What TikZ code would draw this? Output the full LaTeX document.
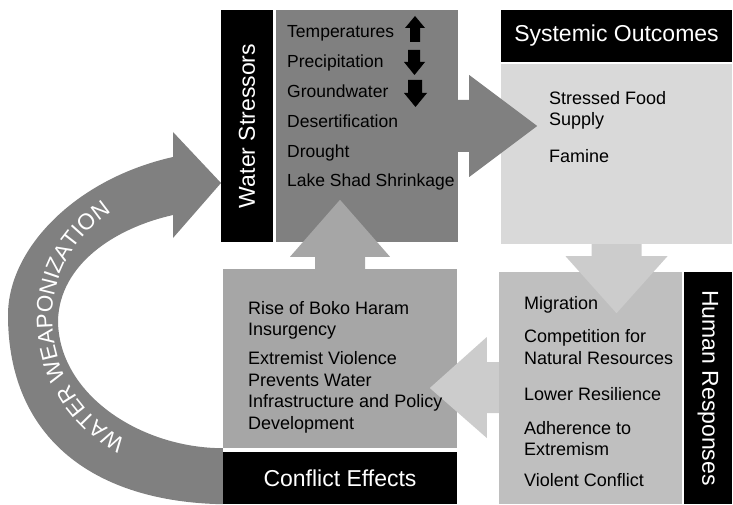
\documentclass[tikz,border=0pt]{standalone}
\usepackage{fontspec}
\setmainfont{Liberation Sans}
\usetikzlibrary{calc,decorations.text}

\definecolor{stressgray}{gray}{0.5}
\definecolor{outgray}{gray}{0.85}
\definecolor{respgray}{gray}{0.75}
\definecolor{confgray}{gray}{0.65}
\definecolor{flowgray}{gray}{0.8}

\tikzset{
  title/.style={fill=black, text=white, inner sep=0pt,
    font=\fontsize{23}{26}\selectfont},
  items/.style={anchor=base west, align=left, inner sep=0pt,
    font=\fontsize{18}{21.5}\selectfont},
}

\begin{document}
\begin{tikzpicture}[x=1pt,y=1pt]
  \useasboundingbox (0,0) rectangle (733,504);

  % boxes
  \node[title, minimum width=232pt, minimum height=52pt, rotate=90](WSt) at (247,378) {Water Stressors};
  \node[fill=stressgray, minimum width=182pt, minimum height=232pt](WSb) at (367,378) {};
  \node[title, minimum width=231pt, minimum height=52pt](SOt) at (616.5,468) {Systemic Outcomes};
  \node[fill=outgray, minimum width=231pt, minimum height=180pt](SOb) at (616.5,350) {};
  \node[title, minimum width=232pt, minimum height=48pt, rotate=-90](HRt) at (708,116) {Human Responses};
  \node[fill=respgray, minimum width=183pt, minimum height=232pt](HRb) at (590.5,116) {};
  \node[fill=confgray, minimum width=234pt, minimum height=179pt](CEb) at (340,145.5) {};
  \node[title, minimum width=234pt, minimum height=52pt](CEt) at (340,26) {Conflict Effects};

  % block arrows
  \fill[stressgray] ($(WSb.east)+(0,26)$) -- ++(11,0) -- ++(0,25) -- ($(WSb.east)+(79,0)$)
    -- ($(WSb.east)+(11,-51)$) -- ++(0,25) -- ($(WSb.east)+(0,-26)$) -- cycle;
  \fill[flowgray] ($(SOb.south)+(-25,0)$) -- ++(0,-12) -- ++(-26,0) -- ($(SOb.south)+(0,-69)$)
    -- ($(SOb.south)+(51,-12)$) -- ++(-26,0) -- ($(SOb.south)+(25,0)$) -- cycle;
  \fill[flowgray] ($(HRb.west)+(0,26)$) -- ++(-12,0) -- ++(0,25) -- ($(HRb.west)+(-69,0)$)
    -- ($(HRb.west)+(-12,-50)$) -- ++(0,25) -- ($(HRb.west)+(0,-25)$) -- cycle;
  \fill[confgray] ($(CEb.north)+(-25,0)$) -- ++(0,12) -- ++(-25,0) -- ($(CEb.north)+(0,69)$)
    -- ($(CEb.north)+(50,12)$) -- ++(-25,0) -- ($(CEb.north)+(25,0)$) -- cycle;

  % curved arrow
  \fill[stressgray] (CEt.south west) .. controls (95,2) and (8,65) .. (8,189)
    .. controls (8,255) and (75,325) .. (173,347) -- (173,372) -- (221,321)
    -- (173,266) -- (173,289) .. controls (115,276) and (60,240) .. (58,184)
    .. controls (58,110) and (140,56) .. (CEb.south west) -- cycle;
  \path[decorate, decoration={text along path, text color=white,
      text={|\fontsize{22.5}{23}\selectfont|WATER WEAPONIZATION}}]
    (126,64) .. controls (82,88) and (52,132) .. (52,190)
    .. controls (55,243) and (84,278) .. (130,303);

  % small arrows
  \fill (410,462) -- (420,462) -- (420,476) -- (425,476) -- (415,488) -- (405,476) -- (410,476) -- cycle;
  \fill (408,454) -- (420,454) -- (420,442) -- (425,442) -- (414.5,429) -- (404,442) -- (408,442) -- cycle;
  \fill (408,424) -- (422,424) -- (422,411) -- (427,411) -- (415.5,397) -- (404,411) -- (408,411) -- cycle;

  % texts
  \node[items, font=\fontsize{17.5}{29.8}\selectfont](WSi) at (287,317) {Temperatures\\Precipitation\\Groundwater\\Desertification\\Drought\\Lake Shad Shrinkage};
  \node[items](SOi) at (549,341) {Stressed Food\\Supply\\[15.5pt]Famine};
  \node[items](CEi) at (248,75) {Rise of Boko Haram\\Insurgency\\[7.5pt]Extremist Violence\\Prevents Water\\Infrastructure and Policy\\Development};
  \node[items](HRi) at (524,18) {Migration\\[12pt]Competition for\\Natural Resources\\[15pt]Lower Resilience\\[12pt]Adherence to\\Extremism\\[9pt]Violent Conflict};
\end{tikzpicture}
\end{document}
